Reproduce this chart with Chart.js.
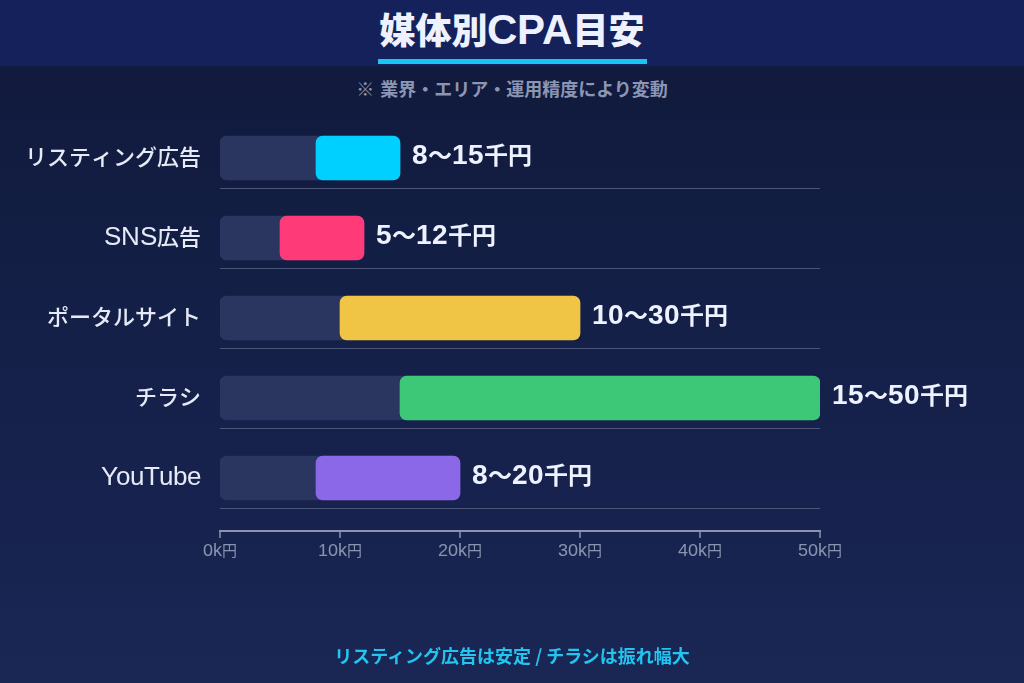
<!DOCTYPE html>
<html lang="ja">
<head>
<meta charset="utf-8">
<script src="https://cdn.jsdelivr.net/npm/chart.js@4"></script>
<style>
  @font-face {
    font-family: "LatinX";
    src: local("Liberation Sans"), local("LiberationSans");
    font-weight: 100 500;
    size-adjust: 118%;
    unicode-range: U+0020-007E;
  }
  @font-face {
    font-family: "LatinX";
    src: local("Liberation Sans Bold"), local("LiberationSans-Bold");
    font-weight: 600 900;
    size-adjust: 118%;
    unicode-range: U+0020-007E;
  }
  html, body { margin:0; padding:0; }
  body {
    width:1024px; height:683px; overflow:hidden; position:relative;
    background: linear-gradient(180deg, #10193a 0%, #142048 50%, #1a2654 100%);
    font-family: LatinX, "Noto Sans CJK JP", sans-serif;
  }
  #header {
    position:absolute; left:0; top:0; width:1024px; height:66px;
    background:#15215a;
  }
  #title {
    position:absolute; left:0; top:6px; width:1024px; text-align:center;
    color:#eef2ff; font-size:36px; font-weight:900; line-height:48px;
  }
  #uline {
    position:absolute; left:378px; top:59px; width:269px; height:5px; background:#19c6f2;
  }
  #sub {
    position:absolute; left:0; top:77px; width:1024px; text-align:center;
    color:#8c96b4; font-size:18px; font-weight:700; line-height:24px;
  }
  #foot {
    position:absolute; left:0; top:642px; width:1024px; text-align:center;
    color:#22c4f0; font-size:18px; font-weight:700; line-height:26px;
  }
  #foot .sl { font-family: "Noto Sans CJK JP", sans-serif; font-weight:700; }
  #wrap { position:absolute; left:0; top:0; width:1024px; height:683px; }
</style>
</head>
<body>
<div id="header"></div>
<div id="title">媒体別CPA目安</div>
<div id="uline"></div>
<div id="sub">※ 業界・エリア・運用精度により変動</div>
<div id="wrap"><canvas id="c" width="1024" height="683"></canvas></div>
<div id="foot">リスティング広告は安定<span class="sl"> / </span>チラシは振れ幅大</div>
<script>
const categories = ["リスティング広告", "SNS広告", "ポータルサイト", "チラシ", "YouTube"];
const minValues = [8, 5, 10, 15, 8];
const maxValues = [15, 12, 30, 50, 20];
const valueLabels = ["8〜15千円", "5〜12千円", "10〜30千円", "15〜50千円", "8〜20千円"];
const barColors = ["#00d0ff", "#ff3a78", "#f0c445", "#3dc878", "#8b68e8"];
const xTicks = [0, 10, 20, 30, 40, 50];

const FONT = 'LatinX, "Noto Sans CJK JP", sans-serif';

const overlay = {
  id: 'overlay',
  beforeDatasetsDraw(chart) {
    const ctx = chart.ctx, ca = chart.chartArea, y = chart.scales.y;
    ctx.save();
    ctx.strokeStyle = '#4a5578';
    ctx.lineWidth = 1;
    categories.forEach((c, i) => {
      const py = Math.round(y.getPixelForValue(i) + 30) + 0.5;
      ctx.beginPath(); ctx.moveTo(ca.left, py); ctx.lineTo(ca.right, py); ctx.stroke();
    });
    const x = chart.scales.x;
    const ay = ca.bottom + 13;
    ctx.strokeStyle = '#8a94b0';
    ctx.lineWidth = 2;
    ctx.beginPath(); ctx.moveTo(ca.left - 1, ay); ctx.lineTo(ca.right + 1, ay); ctx.stroke();
    ctx.lineWidth = 1.5;
    xTicks.forEach(v => {
      const px = x.getPixelForValue(v);
      ctx.beginPath(); ctx.moveTo(px, ay); ctx.lineTo(px, ay + 7); ctx.stroke();
    });
    ctx.restore();
  },
  afterDatasetsDraw(chart) {
    const ctx = chart.ctx, x = chart.scales.x, y = chart.scales.y;
    ctx.save();
    ctx.fillStyle = '#eef2ff';
    ctx.font = '700 24px ' + FONT;
    ctx.textAlign = 'left';
    ctx.textBaseline = 'middle';
    valueLabels.forEach((t, i) => {
      ctx.fillText(t, x.getPixelForValue(maxValues[i]) + 12, y.getPixelForValue(i) - 2);
    });
    ctx.restore();
  }
};

function build() {
  new Chart(document.getElementById('c'), {
    type: 'bar',
    data: {
      labels: categories,
      datasets: [
        {
          data: minValues.map((m, i) => [m, maxValues[i]]),
          backgroundColor: barColors,
          borderRadius: 7,
          borderSkipped: false,
          barThickness: 44,
          grouped: false,
          order: 1
        },
        {
          data: maxValues.map(m => [0, m]),
          backgroundColor: '#2a365f',
          borderRadius: 7,
          borderSkipped: false,
          barThickness: 44,
          grouped: false,
          order: 2
        }
      ]
    },
    options: {
      indexAxis: 'y',
      responsive: false,
      animation: false,
      layout: { padding: { left: 0, right: 204, top: 118, bottom: 120 } },
      plugins: { legend: { display: false }, tooltip: { enabled: false } },
      scales: {
        x: {
          min: 0, max: 50,
          afterBuildTicks(s) { s.ticks = xTicks.map(v => ({ value: v })); },
          afterFit(s) { s.height = 45; },
          grid: { display: false, drawTicks: false },
          border: { display: false },
          ticks: {
            padding: 24,
            color: '#8a94b0',
            font: { family: FONT, size: 15 },
            callback: v => v + 'k円'
          }
        },
        y: {
          afterFit(s) { s.width = 220; },
          grid: { display: false, drawTicks: false },
          border: { display: false },
          ticks: {
            padding: 19,
            color: '#e6eaf6',
            font: { family: FONT, size: 22, weight: '500' }
          }
        }
      }
    },
    plugins: [overlay]
  });
}

Promise.all([
  document.fonts.load('400 20px LatinX', 'AB'),
  document.fonts.load('700 20px LatinX', 'AB')
]).then(build, build);
</script>
</body>
</html>
